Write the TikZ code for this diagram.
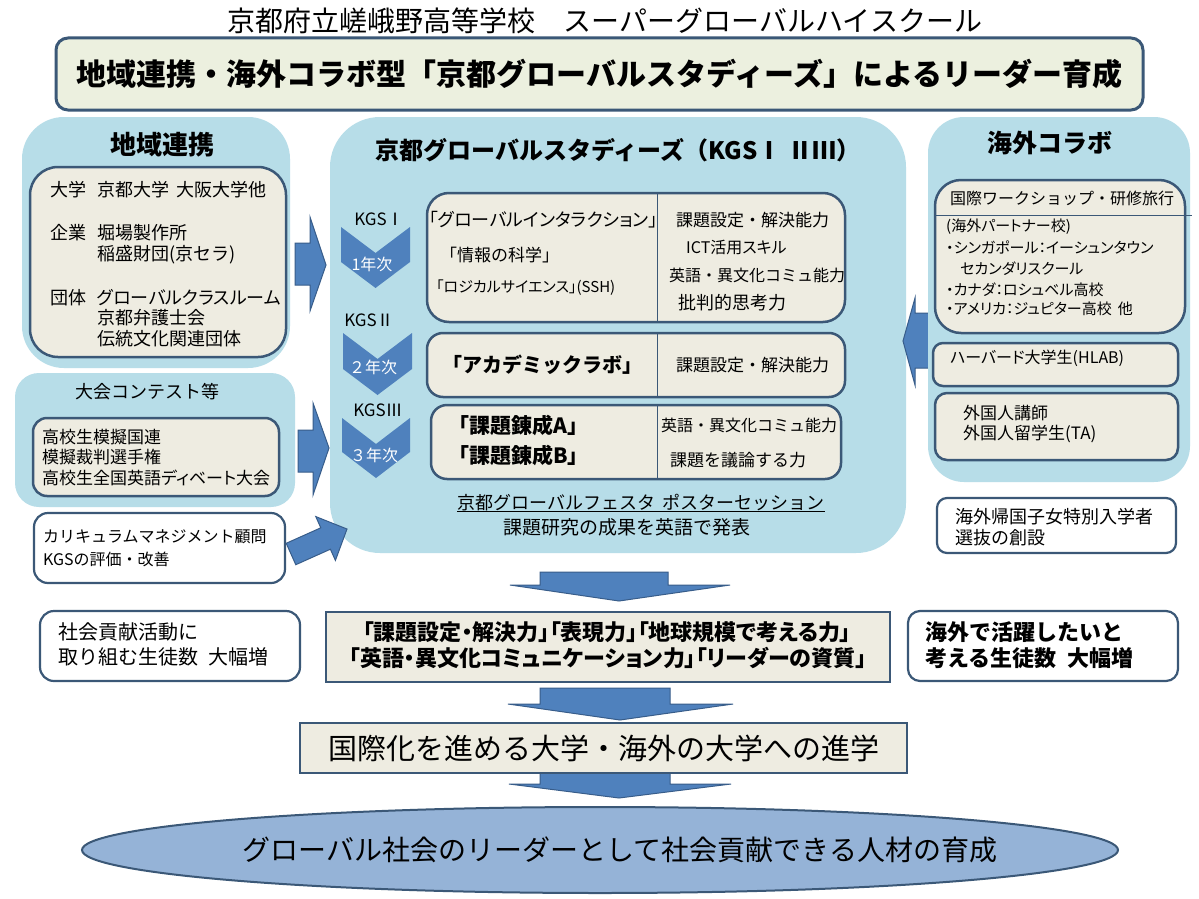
\documentclass[tikz,border=0pt]{standalone}
\usepackage{fontspec}
\setmainfont{Noto Sans CJK JP}
\newfontfamily\jpp{Noto Sans CJK JP}[RawFeature=+palt]
\usetikzlibrary{shapes.geometric}
\definecolor{panelblue}{HTML}{B7DDE8}
\definecolor{beige}{HTML}{EEECE1}
\definecolor{titlebg}{HTML}{ECF0DF}
\definecolor{bord}{HTML}{3B5877}
\definecolor{arrowblue}{HTML}{4F81BD}
\definecolor{arrowedge}{HTML}{385D8A}
\definecolor{ellfill}{HTML}{95B3D7}
\newcommand\fsz[1]{\fontsize{#1pt}{#1pt}\selectfont}
\newcommand\bx[6]{\node[#6, minimum width={(#4-#2)*1pt}, minimum height={(#5-#3)*1pt}] (#1) at ({(#2+#4)/2},{(#3+#5)/2}) {};}
\begin{document}
\begin{tikzpicture}[x=1pt,y=-1pt,
  panel/.style={fill=panelblue, draw=none, inner sep=0pt, outer sep=0pt},
  ibox/.style={fill=beige, draw=bord, line width=2.5pt, inner sep=0pt, outer sep=0pt},
  wbox/.style={fill=white, draw=bord, line width=2.2pt, inner sep=0pt, outer sep=0pt},
  topst/.style={fill=titlebg, draw=bord, line width=3pt, rounded corners=12pt, inner sep=0pt},
  sqbox/.style={fill=beige, draw=bord, line width=2.5pt, inner sep=0pt, outer sep=0pt},
  barrow/.style={fill=arrowblue, draw=arrowedge, line width=1pt, line join=miter},
  chev/.style={fill=arrowblue},
  lt/.style={inner sep=0pt, anchor=west},
  ct/.style={inner sep=0pt},
  wt/.style={inner sep=0pt, text=white},
  divl/.style={draw=bord, line width=0.8pt}]
\useasboundingbox (0,0) rectangle (1199,899);
\fill[white] (0,0) rectangle (1199,899);

% ---- title
\node[ct] (title) at (605,21) {\fsz{28}京都府立嵯峨野高等学校　スーパーグローバルハイスクール};
\bx{topbox}{56}{38}{1143}{110}{topst}
\node[ct] (toptxt) at (topbox) {\fsz{30}\bfseries 地域連携・海外コラボ型「京都グローバルスタディーズ」によるリーダー育成};

% ---- left panels
\bx{lp}{22}{117}{290}{368}{panel, rounded corners=42pt}
\node[ct] (lptitle) at (162,145) {\fsz{26}\bfseries 地域連携};
\bx{lpi}{30}{167}{286}{357}{ibox, rounded corners=28pt}
\node[lt] (k1) at (50,190) {\fsz{18}大学};
\node[lt] (k1v) at (97,190) {\fsz{18}京都大学\hspace{0.4em}大阪大学他};
\node[lt] (k2) at (50,233) {\fsz{18}企業};
\node[lt] (k2a) at (97,233) {\fsz{18}堀場製作所};
\node[lt] (k2b) at (97,255) {\fsz{18}稲盛財団(京セラ)};
\node[lt] (k3) at (50,298) {\fsz{18}団体};
\node[lt] (k3a) at (97,298) {\fsz{18}{\jpp グローバルクラスルーム}};
\node[lt] (k3b) at (97,318) {\fsz{18}京都弁護士会};
\node[lt] (k3c) at (97,339) {\fsz{18}伝統文化関連団体};

\bx{cp}{15}{373}{295}{507}{panel, rounded corners=24pt}
\node[ct] (cptitle) at (147,392) {\fsz{18}大会コンテスト等};
\bx{cpi}{33}{418}{279}{496}{ibox, rounded corners=14pt}
\node[lt] (c1) at (42,437) {\fsz{17}高校生模擬国連};
\node[lt] (c2) at (42,457) {\fsz{17}模擬裁判選手権};
\node[lt] (c3) at (42,478) {\fsz{17}{\jpp 高校生全国英語ディベート大会}};

\bx{cm}{34}{513}{285}{583}{wbox, rounded corners=14pt}
\node[lt] (cm1) at (43,537) {\fsz{16}カリキュラムマネジメント顧問};
\node[lt] (cm2) at (43,559) {\fsz{16}KGSの評価・改善};

\bx{sk}{40}{611}{300}{681}{wbox, rounded corners=14pt}
\node[lt] (sk1) at (58,632) {\fsz{20}社会貢献活動に};
\node[lt] (sk2) at (58,657) {\fsz{20}取り組む生徒数\hspace{0.5em}大幅増};

% ---- center panel
\bx{kgs}{330}{117}{906}{553}{panel, rounded corners=50pt}
\node[ct] (kgstitle) at (618,150) {\fsz{24}\bfseries 京都グローバルスタディーズ（KGSⅠ\hspace{0.3em}ⅡⅢ）};

% chevrons
\fill[chev] (341,227) -- (375.5,253) -- (410,227) -- (410,262) -- (375.5,288) -- (341,262) -- cycle;
\coordinate (ch1) at (375.5,258);
\fill[chev] (343,333) -- (377.5,359) -- (412,333) -- (412,369) -- (377.5,395) -- (343,369) -- cycle;
\coordinate (ch2) at (377.5,364);
\fill[chev] (342,418) -- (376,444) -- (410,418) -- (410,452) -- (376,478) -- (342,452) -- cycle;
\coordinate (ch3) at (376,448);
\node[ct] (g1) at (379,219) {\fsz{17}KGSⅠ};
\node[ct] (g2) at (369,320) {\fsz{17}KGSⅡ};
\node[ct] (g3) at (378,410) {\fsz{17}KGSⅢ};
\node[wt] (y1) at (372,264) {\fsz{16}1年次};
\node[wt] (y2) at (373,367) {\fsz{16}２年次};
\node[wt] (y3) at (374,455) {\fsz{16}３年次};

% box A
\bx{ba}{427}{193}{845}{322}{ibox, rounded corners=22pt}
\draw[divl] (657,194) -- (657,321);
\node[lt] (a1) at (429,220) {\fsz{18}{\jpp 「グローバルインタラクション」}};
\node[lt] (a2) at (440,255) {\fsz{17}「情報の科学」};
\node[lt] (a3) at (436,288) {\fsz{15}{\jpp 「ロジカルサイエンス」(SSH)}};
\node[lt] (a4) at (676,220) {\fsz{17}課題設定・解決能力};
\node[lt] (a5) at (686,247) {\fsz{16}{\jpp ICT活用スキル}};
\node[lt] (a6) at (669,275) {\fsz{16}英語・異文化コミュ能力};
\node[lt] (a7) at (678,303) {\fsz{18}批判的思考力};

% box B
\bx{bb}{427}{333}{845}{397}{ibox, rounded corners=16pt}
\draw[divl] (657,334) -- (657,396);
\node[lt] (b1) at (442,365) {\fsz{20}\bfseries 「アカデミックラボ」};
\node[lt] (b2) at (676,365) {\fsz{17}課題設定・解決能力};

% box C
\bx{bc}{431}{405}{841}{479}{ibox, rounded corners=16pt}
\draw[divl] (657,406) -- (657,478);
\node[lt] (c4) at (448,425) {\fsz{21}\bfseries 「課題錬成A」};
\node[lt] (c5) at (448,455) {\fsz{21}\bfseries 「課題錬成B」};
\node[lt] (c6) at (661,425) {\fsz{16}英語・異文化コミュ能力};
\node[lt] (c7) at (670,460) {\fsz{17}課題を議論する力};

\node[ct] (fes) at (641,503) {\fsz{18}京都グローバルフェスタ\hspace{0.4em}ポスターセッション};
\draw[line width=0.8pt] (fes.south west) -- (fes.south east);
\node[ct] (fes2) at (627,527) {\fsz{19}課題研究の成果を英語で発表};

% ---- arrows into center
\draw[barrow] (295,243) -- (310,243) -- (310,217) -- (326,265) -- (310,311) -- (310,285) -- (295,285) -- cycle;
\draw[barrow] (298,430) -- (313,430) -- (313,403) -- (329,448) -- (313,495) -- (313,472) -- (298,472) -- cycle;
\draw[barrow] (286.2,543.3) -- (320.8,527.8) -- (315.8,516.6) -- (347,529) -- (335.4,560.4) -- (330.4,549.2) -- (295.8,564.7) -- cycle;
\draw[barrow] (934,313) -- (915,313) -- (915,298) -- (903,341) -- (915,385) -- (915,368) -- (934,368) -- cycle;

% ---- right panel
\bx{op}{928}{117}{1190}{482}{panel, rounded corners=36pt}
\node[ct] (optitle) at (1050,143) {\fsz{25}\bfseries 海外コラボ};
\bx{opa}{935}{180}{1185}{333}{ibox, rounded corners=26pt}
\draw[divl] (936,215) -- (1192,215);
\node[ct] (o1) at (1062,198) {\fsz{16}国際ワークショップ・研修旅行};
\node[lt] (o2) at (946,227) {\fsz{15}{\jpp (海外パートナー校)}};
\node[lt] (o3) at (946,247) {\fsz{15}{\jpp ・シンガポール：イーシュンタウン}};
\node[lt] (o4) at (960,269) {\fsz{15}{\jpp セカンダリスクール}};
\node[lt] (o5) at (946,290) {\fsz{15}{\jpp ・カナダ：ロシュベル高校}};
\node[lt] (o6) at (946,309) {\fsz{15}{\jpp ・アメリカ：ジュピター高校\hspace{0.4em}他}};
\bx{opb}{933}{343}{1178}{386}{ibox, rounded corners=10pt}
\node[lt] (o7) at (950,358) {\fsz{16}{\jpp ハーバード大学生(HLAB)}};
\bx{opc}{935}{393}{1178}{460}{ibox, rounded corners=12pt}
\node[lt] (o8) at (963,413) {\fsz{17}外国人講師};
\node[lt] (o9) at (963,434) {\fsz{17}外国人留学生(TA)};

\bx{kk}{937}{498}{1176}{553}{wbox, rounded corners=10pt}
\node[lt] (kk1) at (955,517) {\fsz{18}海外帰国子女特別入学者};
\node[lt] (kk2) at (955,538) {\fsz{18}選抜の創設};

% ---- bottom flow
\draw[barrow] (540,572) -- (668,572) -- (668,585) -- (730,585) -- (619,601) -- (510,585) -- (540,585) -- cycle;
\bx{res}{326}{612}{890}{682}{sqbox}
\node[ct] (r1) at (607,632) {\fsz{22}\bfseries {\jpp 「課題設定・解決力」「表現力」「地球規模で考える力」}};
\node[ct] (r2) at (608,658) {\fsz{22}\bfseries {\jpp 「英語・異文化コミュニケーション力」「リーダーの資質」}};

\bx{kg}{908}{611}{1178}{681}{wbox, rounded corners=12pt}
\node[lt] (kg1) at (925,632) {\fsz{22}\bfseries 海外で活躍したいと};
\node[lt] (kg2) at (925,658) {\fsz{22}\bfseries 考える生徒数\hspace{0.5em}大幅増};

\draw[barrow] (540,688) -- (670,688) -- (670,704) -- (733,704) -- (620,720) -- (508,704) -- (540,704) -- cycle;
\draw[barrow] (540,771) -- (670,771) -- (670,784) -- (731,784) -- (619,798) -- (509,784) -- (540,784) -- cycle;
\bx{uni}{300}{723}{907}{773}{sqbox}
\node[ct] (unit) at (uni) {\fsz{29}国際化を進める大学・海外の大学への進学};

\node[ellipse, fill=ellfill, draw=bord, line width=2pt, minimum width=1036pt, minimum height=86pt, inner sep=0pt] (goal) at (600,850) {};
\node[ct] (goalt) at (620,850) {\fsz{28}グローバル社会のリーダーとして社会貢献できる人材の育成};
\end{tikzpicture}
\end{document}
